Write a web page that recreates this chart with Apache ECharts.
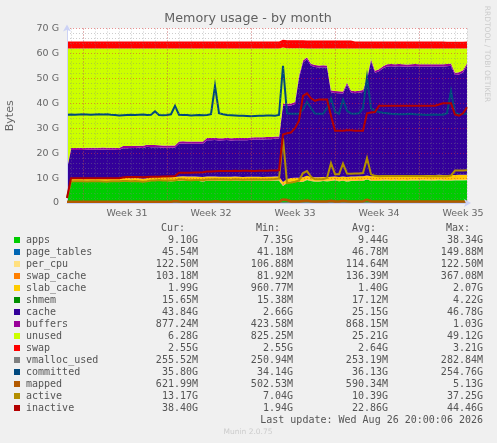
<!DOCTYPE html>
<html><head><meta charset="utf-8">
<style>html,body{margin:0;padding:0;background:#f0f0f0}#c{width:497px;height:443px}</style>
<script src="https://cdn.jsdelivr.net/npm/echarts@6/dist/echarts.min.js"></script>
</head><body><div id="c"></div>
<script>
const apps=[1.5,8.6,8.6,8.7,8.6,8.6,8.7,8.7,8.6,8.6,8.5,8.6,8.7,8.6,8.8,8.7,8.6,8.7,8.6,8.4,8.6,8.8,8.9,8.9,8.8,8.8,8.7,8.8,8.8,9.0,8.9,8.8,8.9,8.8,8.6,8.9,8.9,8.9,8.8,8.9,8.9,8.8,9.0,8.9,8.8,8.9,8.9,8.9,9.0,8.8,8.9,8.9,9.0,9.0,6.8,8.0,8.4,8.5,8.4,8.5,9.2,8.8,8.6,8.6,8.8,8.7,8.8,9.1,8.7,8.9,8.6,8.8,8.8,8.9,8.9,9.4,8.9,8.9,8.9,9.0,9.0,8.9,9.0,8.9,9.0,8.9,9.0,9.0,9.0,9.1,9.0,9.0,9.0,9.1,9.0,9.0,9.0,9.1,9.1,9.1,9.1];
const page_tables=[.04,.045,.045,.045,.045,.045,.045,.045,.045,.045,.045,.045,.045,.045,.045,.045,.045,.045,.045,.045,.045,.045,.045,.045,.045,.045,.045,.045,.045,.045,.045,.045,.045,.045,.045,.045,.045,.045,.045,.045,.045,.045,.045,.045,.045,.045,.045,.045,.045,.045,.045,.045,.045,.045,.15,.05,.05,.05,.05,.05,.05,.05,.05,.05,.05,.05,.05,.05,.05,.05,.05,.05,.05,.05,.05,.05,.05,.05,.05,.05,.045,.045,.045,.045,.045,.045,.045,.045,.045,.045,.045,.045,.045,.045,.045,.045,.045,.045,.045,.045,.045];
const per_cpu=[.11,.11,.11,.11,.11,.11,.11,.11,.11,.11,.11,.11,.11,.11,.11,.11,.11,.11,.11,.11,.11,.11,.11,.11,.11,.11,.11,.11,.11,.11,.11,.11,.11,.11,.11,.11,.11,.11,.11,.11,.11,.11,.11,.11,.11,.11,.11,.11,.11,.11,.11,.11,.11,.11,.12,.12,.12,.12,.12,.12,.12,.12,.12,.12,.12,.12,.12,.12,.12,.12,.12,.12,.12,.12,.12,.12,.12,.12,.12,.12,.12,.12,.12,.12,.12,.12,.12,.12,.12,.12,.12,.12,.12,.12,.12,.12,.12,.12,.12,.12,.12];
const swap_cache=[.14,.14,.14,.14,.14,.14,.14,.14,.14,.14,.14,.14,.14,.14,.14,.14,.14,.14,.14,.14,.14,.14,.14,.14,.14,.14,.14,.14,.14,.14,.14,.14,.14,.14,.14,.14,.14,.14,.14,.14,.14,.14,.14,.14,.14,.14,.14,.14,.14,.14,.14,.14,.14,.14,.36,.2,.18,.18,.16,.16,.14,.14,.14,.14,.14,.14,.14,.14,.14,.14,.14,.14,.14,.14,.14,.14,.14,.14,.14,.14,.12,.12,.12,.12,.12,.12,.12,.12,.12,.12,.12,.12,.12,.12,.12,.1,.1,.1,.1,.1,.1];
const slab_cache=[0.2,1.0,1.0,0.98,1.0,1.02,1.0,1.0,1.0,1.0,1.05,1.0,1.0,1.02,1.0,1.0,1.05,1.0,1.02,1.0,1.05,1.1,1.2,1.25,1.3,1.3,1.3,1.35,1.5,1.4,1.4,1.5,1.4,1.4,1.5,1.4,1.4,1.4,1.4,1.35,1.3,1.4,1.3,1.3,1.3,1.3,1.3,1.3,1.2,1.3,1.3,1.3,1.3,1.3,0.96,1.2,1.3,1.3,1.4,1.5,1.4,1.3,1.4,1.4,1.3,1.3,1.4,1.2,1.4,1.4,1.5,1.5,1.5,1.5,1.5,1.3,1.5,1.6,1.7,1.7,1.7,1.8,1.7,1.8,1.7,1.8,1.8,1.8,1.8,1.8,1.9,1.9,1.9,1.9,1.9,1.9,2.0,1.9,2.0,2.0,2.0];
const shmem=[.017,.017,.017,.017,.017,.017,.017,.017,.017,.017,.017,.017,.017,.017,.017,.017,.017,.017,.017,.017,.017,.017,.017,.017,.017,.017,.017,.017,.017,.017,.017,.017,.017,.017,.017,.017,.017,.017,.017,.017,.017,.017,.017,.017,.017,.017,.017,.017,.017,.017,.017,.017,.017,.017,.017,.017,.017,.017,.017,.017,.017,.017,.017,.017,.017,.017,.017,.017,.017,.017,.017,.017,.017,.017,.017,.017,.017,.017,.017,.017,.016,.016,.016,.016,.016,.016,.016,.016,.016,.016,.016,.016,.016,.016,.016,.016,.016,.016,.016,.016,.016];
const cache=[11.5,11.3,11.3,11.3,11.3,11.4,11.3,11.3,11.4,11.5,11.5,11.4,11.3,11.3,11.9,12.0,12.1,12.1,12.2,12.4,12.6,12.2,12.0,11.9,11.8,11.8,11.9,11.8,13.2,13.2,13.2,13.2,13.2,13.3,13.4,14.6,14.6,14.7,14.6,14.6,14.8,14.6,14.6,14.7,14.8,14.7,14.9,15.0,15.0,15.1,15.1,15.1,15.2,15.2,30.6,29.4,29.0,29.5,40.0,46.0,46.7,44.6,44.2,44.0,44.0,44.0,33.9,33.5,33.6,33.3,37.0,33.7,33.4,33.5,33.8,38.2,46.2,41.4,41.9,43.0,43.8,43.9,43.8,43.9,43.8,43.7,43.7,43.8,43.7,43.6,43.6,43.6,43.6,43.5,43.6,43.7,43.8,40.1,40.2,41.0,43.84];
const buffers=[.42,.85,.85,.85,.85,.85,.85,.85,.85,.85,.85,.85,.85,.85,.85,.85,.85,.85,.85,.85,.85,.85,.85,.85,.85,.85,.85,.85,.85,.85,.85,.85,.85,.85,.85,.85,.85,.85,.85,.85,.85,.85,.85,.85,.85,.85,.85,.85,.85,.85,.85,.85,.85,.85,.85,.85,.85,.85,.85,.85,.85,.85,.85,.85,.85,.85,.85,.85,.85,.85,.85,.85,.85,.85,.85,.85,.85,.85,.85,.85,.85,.85,.85,.85,.85,.85,.85,.85,.85,.85,.85,.85,.85,.85,.85,.85,.85,.85,.85,.85,.88];
const unused=[48.07,39.94,39.94,39.86,39.94,39.82,39.84,39.84,39.84,39.74,39.79,39.84,39.84,39.92,39.14,39.14,39.09,39.04,39.02,39.04,38.59,38.74,38.74,38.79,38.94,38.94,38.94,38.89,37.34,37.24,37.34,37.34,37.34,37.34,37.34,35.94,35.94,35.84,36.04,35.99,35.84,36.04,35.94,35.94,35.94,35.94,35.74,35.64,35.64,35.64,35.54,35.54,35.34,35.34,22.48,22.24,22.14,21.54,11.04,4.84,3.54,6.14,6.64,6.84,6.74,6.84,16.74,17.04,17.14,17.24,13.74,16.84,17.14,16.94,16.64,11.94,4.24,8.94,8.34,7.14,6.34,6.24,6.34,6.24,6.34,6.44,6.34,6.24,6.34,6.34,6.34,6.34,6.34,6.34,6.34,6.24,6.04,9.74,9.54,8.74,5.9];
const swap=[2.75,2.75,2.75,2.75,2.75,2.75,2.75,2.75,2.75,2.75,2.75,2.75,2.75,2.75,2.75,2.75,2.75,2.75,2.75,2.75,2.75,2.75,2.75,2.75,2.75,2.75,2.75,2.75,2.75,2.75,2.75,2.75,2.75,2.75,2.75,2.75,2.75,2.75,2.75,2.75,2.75,2.75,2.75,2.75,2.75,2.75,2.75,2.75,2.75,2.75,2.75,2.75,2.75,2.75,3.2,3.2,3.2,3.2,3.2,3.2,3.2,3.2,3.2,3.2,3.2,3.2,3.2,3.2,3.2,3.2,3.2,3.2,2.75,2.75,2.75,2.75,2.75,2.75,2.75,2.75,2.75,2.75,2.75,2.75,2.75,2.75,2.75,2.75,2.75,2.75,2.75,2.75,2.75,2.75,2.75,2.75,2.75,2.75,2.75,2.75,2.75];
const vmalloc_used=[.25,.25,.25,.25,.25,.25,.25,.25,.25,.25,.25,.25,.25,.25,.25,.25,.25,.25,.25,.25,.25,.25,.25,.25,.25,.25,.25,.25,.25,.25,.25,.25,.25,.25,.25,.25,.25,.25,.25,.25,.25,.25,.25,.25,.25,.25,.25,.25,.25,.25,.25,.25,.25,.25,.28,.25,.25,.25,.25,.25,.25,.25,.25,.25,.25,.25,.25,.25,.25,.25,.25,.25,.25,.25,.25,.25,.25,.25,.25,.25,.25,.25,.25,.25,.25,.25,.25,.25,.25,.25,.25,.25,.25,.25,.25,.25,.25,.25,.25,.25,.25];
const committed=[35.4,35.5,35.4,35.5,35.6,35.5,35.4,35.5,35.6,35.5,35.6,35.4,35.3,35.1,35.2,35.3,35.4,35.3,35.4,35.5,35.3,35.4,36.8,35.3,35.2,35.3,35.6,39.0,35.4,35.3,35.3,35.1,35.2,35.3,35.2,35.3,35.6,47.0,36.0,35.6,35.3,35.2,35.1,35.0,35.0,34.9,34.8,34.9,35.0,35.0,35.1,35.1,35.0,35.3,55.0,36.0,35.8,35.8,35.8,37.5,40.5,38.0,35.9,35.8,35.8,38.0,42.0,36.5,35.8,41.5,37.0,35.9,35.8,36.0,38.0,50.5,38.0,37.0,36.5,36.2,36.0,35.8,35.7,35.6,35.6,35.7,35.8,35.6,35.5,35.4,35.3,35.4,35.5,35.4,35.4,36.0,45.0,36.2,35.6,35.8,35.8];
const mapped=[.5,.55,.55,.55,.55,.55,.55,.55,.55,.55,.55,.55,.55,.55,.55,.55,.55,.55,.55,.55,.55,.55,.55,.55,.55,.55,.55,.8,.6,.55,.55,.55,.55,.55,.55,.55,.55,.7,.6,.55,.55,.55,.55,.55,.55,.55,.55,.55,.55,.55,.55,.55,.55,.55,1.4,1.2,.6,.6,.6,.8,1.0,.7,.6,.6,.6,.6,.9,.6,.6,.9,.7,.6,.6,.6,.7,1.3,.7,.6,.6,.6,.6,.6,.6,.6,.6,.6,.6,.6,.6,.6,.6,.6,.6,.6,.6,.6,.6,.6,.6,.6,.62];
const active=[2,8.6,8.7,8.7,8.7,8.6,8.7,8.7,8.7,8.6,8.5,8.7,8.7,8.7,8.8,8.8,8.7,8.8,8.7,8.5,8.7,9,9,9.2,9,9,9,9,9.5,9.4,9.2,9.1,9.2,9.2,9.1,9.4,9.4,9.5,9.4,9.5,9.4,9.3,9.5,9.4,9.3,9.4,9.4,9.5,9.4,9.4,9.4,9.5,9.6,9.8,26,8,8.2,8.5,9,12,12.8,10.5,9.5,9.5,9.5,10,16,11.5,11.5,15.8,11.8,11.7,11.8,11.8,12,18,11.5,10.9,10.7,10.8,10.8,10.8,10.8,10.8,10.8,10.8,10.8,10.8,10.8,10.8,10.7,10.7,10.8,10.7,10.7,10.7,11,13,13,13,13.17];
const inactive=[2,9.9,9.9,9.9,9.9,9.9,9.9,9.9,9.9,9.9,9.9,9.9,9.9,9.9,10.2,10.4,10.4,10.4,10.4,10.3,10.4,10.5,10.5,10.5,10.6,10.6,10.7,10.8,12.1,12.1,12.1,12.1,12.2,12.2,12.3,12.6,12.6,12.7,12.8,12.8,12.8,12.8,12.9,12.8,12.9,12.9,12.8,12.8,12.9,12.9,12.9,13,13,13.1,27.5,28,28.3,30,33,43,44,42,41,41.5,41.5,41.5,35,29,29,29,29.2,29.2,29,29,29,36,36.3,36.5,39,39,39,39,39,39,39,39,39,39,39,39,39,39,39,39.5,40,40,40,35.5,35,36,38.4];

const samples=apps.map((_,i)=>i);
const yTicks=[0,10,20,30,40,50,60,70];
const weekLabels={15:'Week 31',36:'Week 32',57:'Week 33',78:'Week 34',99:'Week 35'};
const weekStarts=[4,25,46,67,88];
const dayOffset=1;

const legendNames=['apps','page_tables','per_cpu','swap_cache','slab_cache','shmem','cache','buffers','unused','swap','vmalloc_used','committed','mapped','active','inactive'];
const legendColors=['#00CC00','#0066B3','#FFE080','#FF8000','#FFCC00','#008F00','#330099','#990099','#CCFF00','#FF0000','#808080','#00487D','#B35A00','#B38F00','#B30000'];
const legendCur=['9.10G','45.54M','122.50M','103.18M','1.99G','15.65M','43.84G','877.24M','6.28G','2.55G','255.52M','35.80G','621.99M','13.17G','38.40G'];
const legendMin=['7.35G','41.18M','106.88M','81.92M','960.77M','15.38M','2.66G','423.58M','825.25M','2.55G','250.94M','34.14G','502.53M','7.04G','1.94G'];
const legendAvg=['9.44G','46.78M','114.64M','136.39M','1.40G','17.12M','25.15G','868.15M','25.21G','2.64G','253.19M','36.13G','590.34M','10.39G','22.86G'];
const legendMax=['38.34G','149.88M','122.50M','367.08M','2.07G','4.22G','46.78G','1.03G','49.12G','3.21G','282.84M','254.76G','5.13G','37.25G','44.46G'];

const stackData={apps,page_tables,per_cpu,swap_cache,slab_cache,shmem,cache,buffers,unused,swap};
const lineData={vmalloc_used,committed,mapped,active,inactive};
const colorOf=n=>legendColors[legendNames.indexOf(n)];

const series=[];
Object.keys(stackData).forEach(n=>series.push({name:n,type:'line',stack:'mem',data:stackData[n],showSymbol:false,silent:true,
  lineStyle:{width:0},areaStyle:{color:colorOf(n),opacity:1},itemStyle:{color:colorOf(n)},z:2}));
Object.keys(lineData).forEach((n,k)=>series.push({name:n,type:'line',data:lineData[n],showSymbol:false,silent:true,
  lineStyle:{width:n==='vmalloc_used'?1:(n==='mapped'?2.5:2),color:colorOf(n),join:'miter'},itemStyle:{color:colorOf(n)},z:3+k}));

const mono='"DejaVu Sans Mono",monospace', sans='"DejaVu Sans",sans-serif';
const txt=(x,y,t,align,font,size,fill,extra)=>Object.assign({type:'text',x,y,silent:true,z:20,
  style:{text:t,align,verticalAlign:'middle',font:size+'px '+font,fill}},extra||{});
const gfx=[];
gfx.push(txt(248,19,'Memory usage - by month','center',sans,12.7,'#606060'));
gfx.push(txt(487,54,'RRDTOOL / TOBI OETIKER','center',sans,7.5,'#cccccc',{rotation:-Math.PI/2}));
gfx.push(txt(248,432,'Munin 2.0.75','center',sans,7.5,'#cccccc'));
gfx.push(txt(483,420,'Last update: Wed Aug 26 20:00:06 2026','right',mono,10,'#555555'));
[['Cur:',185],['Min:',280],['Avg:',376],['Max:',470]].forEach(h=>gfx.push(txt(h[1],228,h[0],'right',mono,10,'#555555')));
legendNames.forEach((n,i)=>{
  const y=240+12*i;
  gfx.push({type:'rect',silent:true,z:20,shape:{x:14,y:y-3,width:6,height:6},style:{fill:legendColors[i]}});
  gfx.push(txt(26,y,n,'left',mono,10,'#555555'));
  gfx.push(txt(198,y,legendCur[i],'right',mono,10,'#555555'));
  gfx.push(txt(293,y,legendMin[i],'right',mono,10,'#555555'));
  gfx.push(txt(388,y,legendAvg[i],'right',mono,10,'#555555'));
  gfx.push(txt(483,y,legendMax[i],'right',mono,10,'#555555'));
});

const axisBlue='#ccd2f5';
const chart=echarts.init(document.getElementById('c'),null,{renderer:'canvas'});
chart.setOption({
  animation:false,backgroundColor:'#f0f0f0',
  grid:{left:67,top:28.5,width:400,height:174.5,show:true,backgroundColor:'#ffffff',borderWidth:0,outerBoundsMode:'none'},
  xAxis:[{type:'category',data:samples,boundaryGap:false,z:5,
      axisLine:{show:true,lineStyle:{color:axisBlue,width:1},symbol:['none','arrow'],symbolSize:[6,7],symbolOffset:[0,4]},
      axisTick:{show:false},
      axisLabel:{interval:i=>i in weekLabels,formatter:(v,i)=>weekLabels[i]||'',color:'#666666',fontFamily:sans,fontSize:9.5,margin:6,hideOverlap:false},
      splitLine:{show:true,interval:i=>weekStarts.includes(i),lineStyle:{color:'rgba(220,60,60,0.55)',type:[1,2],width:1}}},
    {type:'category',data:samples,boundaryGap:false,z:4,position:'bottom',
      axisLine:{show:false},axisTick:{show:false},axisLabel:{show:false},
      splitLine:{show:true,interval:i=>i%3===dayOffset,lineStyle:{color:'rgba(130,130,130,0.4)',type:[1,2],width:1}}}],
  yAxis:{type:'value',min:0,max:70,interval:10,z:5,
    name:'Bytes',nameLocation:'middle',nameGap:51,nameRotate:90,nameTextStyle:{color:'#666666',fontFamily:sans,fontSize:11},
    axisLine:{show:true,lineStyle:{color:axisBlue,width:1},symbol:['none','arrow'],symbolSize:[6,7],symbolOffset:[0,4]},
    axisTick:{show:false},
    axisLabel:{formatter:v=>yTicks.includes(v)&&v!==0?v+' G':'0',color:'#666666',fontFamily:sans,fontSize:9.5,margin:8},
    splitLine:{show:true,lineStyle:{color:'rgba(220,60,60,0.55)',type:[1,2],width:1}},
    minorTick:{show:false,splitNumber:5},
    minorSplitLine:{show:true,lineStyle:{color:'rgba(130,130,130,0.4)',type:[1,2],width:1}}},
  series,
  graphic:{elements:gfx}
});
</script></body></html>
